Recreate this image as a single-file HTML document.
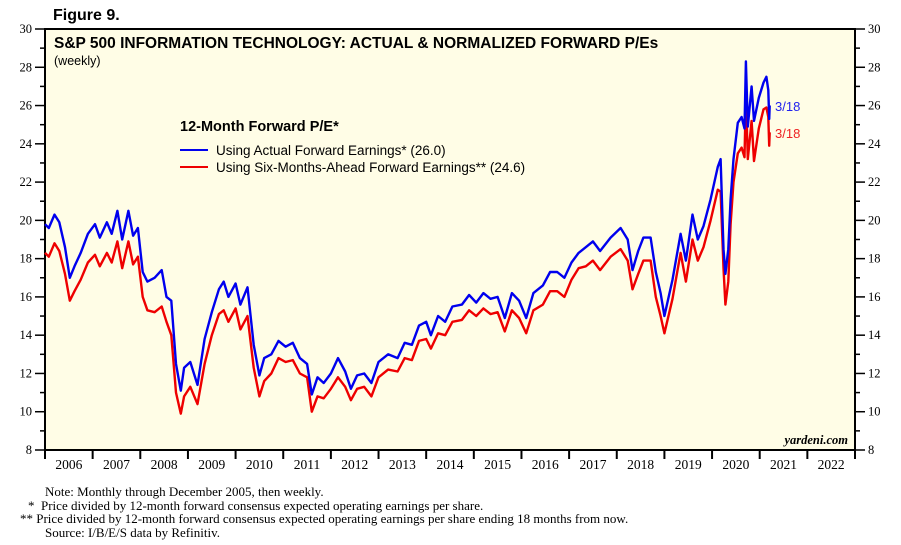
<!DOCTYPE html>
<html><head><meta charset="utf-8"><style>
body{margin:0;background:#fff;width:901px;height:545px;overflow:hidden}
svg{display:block}
.s{font-family:"Liberation Sans",sans-serif}
.f{font-family:"Liberation Serif",serif}
</style></head><body>
<svg id="c" width="901" height="545">
<text x="53" y="20" class="s" font-size="16" font-weight="bold">Figure 9.</text>
<rect x="45" y="29" width="810" height="421" fill="#fffde6" stroke="#000" stroke-width="2"/>
<text x="54" y="48" class="s" font-size="15.5" font-weight="bold">S&amp;P 500 INFORMATION TECHNOLOGY: ACTUAL &amp; NORMALIZED FORWARD P/Es</text>
<text x="54" y="65" class="s" font-size="12.5">(weekly)</text>
<text x="180" y="131" class="s" font-size="14.5" font-weight="bold">12-Month Forward P/E*</text>
<line x1="180" y1="150" x2="208" y2="150" stroke="#0000ee" stroke-width="2"/>
<text x="216" y="155" class="s" font-size="13.5">Using Actual Forward Earnings* (26.0)</text>
<line x1="180" y1="167" x2="208" y2="167" stroke="#ee0000" stroke-width="2"/>
<text x="216" y="172" class="s" font-size="13.5">Using Six-Months-Ahead Forward Earnings** (24.6)</text>
<text x="848" y="444" class="f" font-size="12.5" font-weight="bold" font-style="italic" text-anchor="end">yardeni.com</text>
<g id="axes"></g>
<g id="series"></g>
<text x="775" y="111" class="s" font-size="13" fill="#2222ee">3/18</text>
<text x="775" y="138" class="s" font-size="13" fill="#ee2222">3/18</text>
<g class="f" font-size="13">
<text x="45" y="496">Note: Monthly through December 2005, then weekly.</text>
<text x="28" y="510">*&#160;&#160;Price divided by 12-month forward consensus expected operating earnings per share.</text>
<text x="20" y="523">**&#160;Price divided by 12-month forward consensus expected operating earnings per share ending 18 months from now.</text>
<text x="45" y="537">Source: I/B/E/S data by Refinitiv.</text>
</g>
</svg>
<script>
const years=[2006,2007,2008,2009,2010,2011,2012,2013,2014,2015,2016,2017,2018,2019,2020,2021,2022];
const yTicks=[8,10,12,14,16,18,20,22,24,26,28,30];
const dates=[2006.00,2006.08,2006.20,2006.30,2006.42,2006.52,2006.62,2006.75,2006.90,2007.05,2007.15,2007.30,2007.40,2007.52,2007.62,2007.75,2007.85,2007.95,2008.05,2008.15,2008.30,2008.45,2008.55,2008.65,2008.75,2008.85,2008.92,2009.05,2009.20,2009.35,2009.50,2009.65,2009.75,2009.85,2010.00,2010.10,2010.25,2010.38,2010.50,2010.60,2010.75,2010.90,2011.05,2011.20,2011.35,2011.50,2011.60,2011.72,2011.85,2012.00,2012.15,2012.30,2012.42,2012.55,2012.70,2012.85,2013.00,2013.20,2013.40,2013.55,2013.70,2013.85,2014.00,2014.10,2014.25,2014.40,2014.55,2014.75,2014.90,2015.05,2015.20,2015.35,2015.50,2015.65,2015.80,2015.95,2016.10,2016.25,2016.45,2016.60,2016.75,2016.90,2017.05,2017.20,2017.35,2017.50,2017.65,2017.87,2018.08,2018.23,2018.33,2018.45,2018.56,2018.71,2018.82,2018.92,2019.00,2019.17,2019.34,2019.45,2019.59,2019.70,2019.82,2019.97,2020.12,2020.18,2020.24,2020.28,2020.34,2020.39,2020.45,2020.54,2020.62,2020.68,2020.71,2020.75,2020.83,2020.88,2020.98,2021.08,2021.14,2021.18,2021.20,2021.21];
const actualPE=[19.8,19.6,20.3,19.9,18.6,17.0,17.6,18.3,19.3,19.8,19.1,19.9,19.3,20.5,19.0,20.5,19.2,19.6,17.3,16.8,17.0,17.4,16.0,15.8,12.5,11.1,12.3,12.6,11.4,13.8,15.2,16.4,16.8,16.0,16.7,15.6,16.5,13.5,11.9,12.8,13.0,13.7,13.4,13.6,12.8,12.5,10.9,11.8,11.5,12.0,12.8,12.1,11.2,11.9,12.0,11.5,12.6,13.0,12.8,13.6,13.5,14.5,14.7,14.0,15.0,14.7,15.5,15.6,16.1,15.7,16.2,15.9,16.0,14.9,16.2,15.8,14.9,16.2,16.6,17.3,17.3,17.0,17.8,18.3,18.6,18.9,18.4,19.1,19.6,19.0,17.4,18.4,19.1,19.1,17.3,16.2,15.0,16.9,19.3,17.9,20.3,19.0,19.7,21.1,22.8,23.2,18.5,17.2,18.5,21.1,23.2,25.1,25.4,24.8,28.3,24.9,27.0,25.2,26.4,27.2,27.5,26.8,25.3,26.0];
const normalizedPE=[18.3,18.1,18.8,18.4,17.2,15.8,16.3,16.9,17.8,18.2,17.6,18.3,17.8,18.9,17.5,18.9,17.7,18.1,16.0,15.3,15.2,15.5,14.7,14.0,11.0,9.9,10.8,11.3,10.4,12.5,14.0,15.1,15.3,14.7,15.4,14.3,15.0,12.3,10.8,11.6,12.0,12.8,12.6,12.7,12.0,11.8,10.0,10.8,10.7,11.2,11.8,11.3,10.6,11.2,11.3,10.8,11.8,12.2,12.1,12.8,12.7,13.7,13.8,13.3,14.1,14.0,14.7,14.8,15.3,15.0,15.4,15.1,15.2,14.2,15.3,14.9,14.1,15.3,15.6,16.3,16.3,16.0,16.9,17.5,17.6,17.9,17.4,18.1,18.5,17.9,16.4,17.2,17.9,17.9,16.0,15.0,14.1,15.9,18.3,16.8,19.0,17.9,18.6,20.0,21.6,21.5,17.5,15.6,16.8,19.8,22.0,23.5,23.8,23.3,26.6,23.2,25.2,23.1,24.8,25.8,25.9,25.4,23.9,24.6];
const NS='http://www.w3.org/2000/svg';
const X0=45,X1=855,Y0=450,Y1=29,T0=2006,T1=2023,V0=8,V1=30;
const xs=t=>X0+(t-T0)/(T1-T0)*(X1-X0);
const ys=v=>Y0-(v-V0)/(V1-V0)*(Y0-Y1);
function mk(tag,attrs,parent){const e=document.createElementNS(NS,tag);for(const k in attrs)e.setAttribute(k,attrs[k]);parent.appendChild(e);return e;}
const ax=document.getElementById('axes');
for(let v=V0;v<=V1;v++){
  const y=ys(v),major=v%2===0;
  const l=mk('line',{x1:X0-(major?10:5),x2:X0,y1:y,y2:y,stroke:'#000','stroke-width':1.5},ax);
  
  
  const r=mk('line',{x1:X1,x2:X1+(major?10:5),y1:y,y2:y,stroke:'#000','stroke-width':1.5},ax);
  
  
}
yTicks.forEach(v=>{
  const a=mk('text',{x:32,y:ys(v)+4,'text-anchor':'end','font-size':12.5,class:'f'},ax);a.textContent=v;
  
  
  const b=mk('text',{x:868,y:ys(v)+4,'font-size':12.5,class:'f'},ax);b.textContent=v;
  
  
});
years.concat([2023]).forEach(yr=>{
  const t=mk('line',{x1:xs(yr),x2:xs(yr),y1:Y0,y2:Y0+9,stroke:'#000','stroke-width':2},ax);
  
  
});
years.forEach(yr=>{
  const t=mk('text',{x:xs(yr+0.5),y:469,'text-anchor':'middle','font-size':13.5,class:'f'},ax);t.textContent=yr;
  
  
});
const sg=document.getElementById('series');
function line(vals,color,name){
  const d=vals.map((v,i)=>(i?'L':'M')+xs(dates[i]).toFixed(1)+','+ys(v).toFixed(1)).join('');
  const p=mk('path',{d:d,fill:'none',stroke:color,'stroke-width':2.4,'stroke-linejoin':'round'},sg);
  
  
}
line(normalizedPE,'#ee0000','series-normalized-pe');
line(actualPE,'#0000ee','series-actual-pe');
</script>
</body></html>
